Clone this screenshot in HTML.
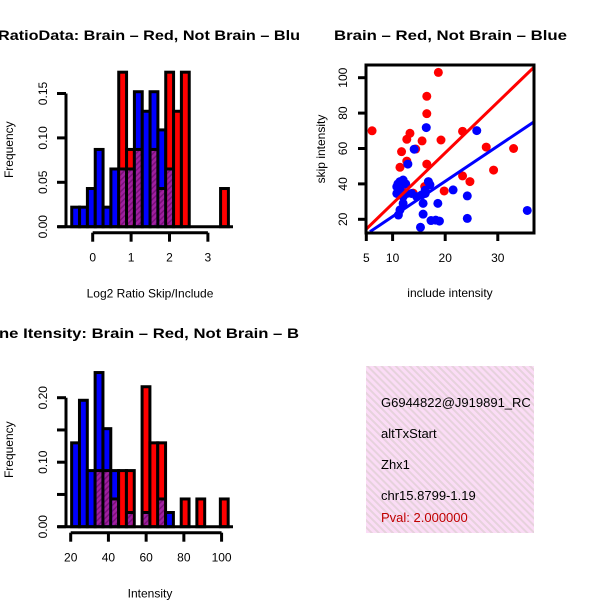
<!DOCTYPE html>
<html><head><meta charset="utf-8"><style>
html,body{margin:0;padding:0;background:#fff;}
svg text{font-family:"Liberation Sans",sans-serif;}
</style></head><body>
<svg id="s" width="600" height="600" viewBox="0 0 600 600" xmlns="http://www.w3.org/2000/svg">
<defs>
<pattern id="hp" patternUnits="userSpaceOnUse" width="4" height="4" patternTransform="rotate(45)">
<rect width="4" height="4" fill="#a020a0"/><rect width="1.5" height="4" fill="#7a107a"/></pattern>
<pattern id="pink" patternUnits="userSpaceOnUse" width="5" height="5" patternTransform="rotate(-45)">
<rect width="5" height="5" fill="#fbdcf6"/><rect width="2" height="5" fill="#e6d2dc"/></pattern>
<clipPath id="c1"><rect x="0" y="0" width="300" height="300"/></clipPath>
<clipPath id="c3"><rect x="0" y="300" width="300" height="300"/></clipPath>
<clipPath id="c2"><rect x="366" y="65" width="168" height="168"/></clipPath>
<clipPath id="c4"><rect x="366" y="366" width="168" height="167"/></clipPath>
</defs>
<text x="-2" y="40" font-size="14" font-weight="bold" textLength="302" lengthAdjust="spacingAndGlyphs" clip-path="url(#c1)">RatioData: Brain – Red, Not Brain – Blu</text>
<text x="334" y="40" font-size="14" font-weight="bold" textLength="233" lengthAdjust="spacingAndGlyphs">Brain – Red, Not Brain – Blue</text>
<text x="-1" y="338" font-size="14" font-weight="bold" textLength="300" lengthAdjust="spacingAndGlyphs" clip-path="url(#c3)">ne Itensity: Brain – Red, Not Brain – B</text>
<g id="g1"></g><g id="g2"></g><g id="g3"></g>
<g>
<rect x="366" y="366" width="168" height="167" fill="url(#pink)"/>
<g clip-path="url(#c4)" font-size="13">
<text x="381" y="407">G6944822@J919891_RC</text>
<text x="381" y="438">altTxStart</text>
<text x="381" y="469">Zhx1</text>
<text x="381" y="500">chr15.8799-1.19</text>
<text x="381" y="522" fill="#c00000">Pval: 2.000000</text>
</g></g>
</svg>
<script>
// Histogram 1: log2 ratio
const ratioBlue=[0.022,0.022,0.043,0.087,0.022,0.065,0.065,0.065,0.152,0.130,0.152,0.109,0.065,0,0,0,0,0,0,0];
const ratioRed=[0,0,0,0,0,0,0.174,0.087,0.087,0,0.087,0.043,0.174,0.130,0.174,0,0,0,0,0.043];
const ratioXTicks=[0,1,2,3];
const ratioYTicks=[0,0.05,0.10,0.15];
const ratioYLabels=["0.00","0.05","0.10","0.15"];
// Histogram 2: intensity
const intBlue=[0.130,0.196,0.087,0.239,0.152,0.087,0,0.022,0,0.022,0,0.043,0.022,0,0,0,0,0,0,0];
const intRed=[0,0,0,0.087,0.087,0.043,0.087,0.087,0,0.217,0.130,0.130,0,0,0.043,0,0.043,0,0,0.043];
const intXTicks=[20,40,60,80,100];
const intYTicks=[0,0.05,0.10,0.15,0.20];
const intYLabels=["0.00","","0.10","","0.20"];
// Scatter
const redPts=[[6.1,70],[18.7,103],[16.5,89.5],[16.5,79.7],[13.3,68.6],[12.7,65.2],[15.6,64.3],[19.2,64.8],[23.3,69.7],[14.4,59.7],[11.7,58.2],[12.7,52.9],[16.5,51.2],[11.4,49.4],[27.8,60.8],[33,60],[29.2,47.8],[23.3,44.5],[24.7,41.3],[19.8,36],[16.1,38.5],[11.7,37.6],[13.9,34.8]];
const bluePts=[[16.4,71.8],[26,70.1],[14.1,59.6],[12.9,51.2],[11.4,41.3],[12.0,42.2],[10.8,38.4],[11.4,36.5],[10.8,34.6],[12.0,32.8],[12.7,34.6],[12.0,29],[11.4,25.3],[11.1,22.4],[13.6,34.6],[14.6,32.8],[15.5,33.7],[16.2,36.5],[16.8,41.3],[17.1,39.5],[16.2,34.6],[15.8,29],[21.5,36.6],[24.2,33.2],[24.2,20.5],[18.6,29],[18.2,19.5],[18.9,19],[17.3,19.3],[15.8,22.9],[15.3,15.5],[35.6,25],[12.5,40],[11,40]];
const redLine=[[5,14.5],[36.9,106]];
const blueLine=[[5.7,13],[36.9,75.1]];
const scXTicks=[5,10,20,30];
const scYTicks=[20,40,60,80,100];

const NS="http://www.w3.org/2000/svg";
function mk(p,t,a){const e=document.createElementNS(NS,t);for(const k in a)e.setAttribute(k,a[k]);p.appendChild(e);return e;}

function hist(g,blue,red,o){
  const sx=v=>o.x0+(v-o.v0)*o.kx, sy=v=>o.y0-v*o.ky;
  const n=blue.length;
  for(let i=0;i<n;i++){
    const b=blue[i],r=red[i];if(b===0&&r===0)continue;
    const xa=sx(o.b0+i*o.bw),xb=sx(o.b0+(i+1)*o.bw);
    const mx=Math.max(b,r),mn=Math.min(b,r);
    const r1=mk(g,'rect',{x:xa,y:sy(mx),width:xb-xa,height:sy(0)-sy(mx),fill:b>=r?'#0000ff':'#ff0000',stroke:'#000','stroke-width':3});
    
    
    if(mn>0){
      const r2=mk(g,'rect',{x:xa+1.5,y:sy(mn),width:xb-xa-3,height:sy(0)-sy(mn)-1.5,fill:'url(#hp)'});
      
      
      mk(g,'line',{x1:xa,x2:xb,y1:sy(mn),y2:sy(mn),stroke:'#000','stroke-width':3});
    }
  }
  mk(g,'line',{x1:58,x2:233,y1:sy(0),y2:sy(0),stroke:'#000','stroke-width':3});
  const ya=mk(g,'line',{x1:66,x2:66,y1:sy(0),y2:sy(o.yt[o.yt.length-1]),stroke:'#000','stroke-width':3});
  
  
  o.yt.forEach((v,i)=>{
    mk(g,'line',{x1:57,x2:66,y1:sy(v),y2:sy(v),stroke:'#000','stroke-width':3});
    if(o.yl[i]){const t=mk(g,'text',{x:47,y:sy(v),'font-size':12,'text-anchor':'middle',transform:`rotate(-90 47 ${sy(v)})`});t.textContent=o.yl[i];
    
    }
  });
  const ay=o.y0+6;
  const xa=mk(g,'line',{x1:sx(o.xt[0]),x2:sx(o.xt[o.xt.length-1]),y1:ay,y2:ay,stroke:'#000','stroke-width':3});
  
  
  o.xt.forEach(v=>{
    mk(g,'line',{x1:sx(v),x2:sx(v),y1:ay,y2:ay+9,stroke:'#000','stroke-width':3});
    const t=mk(g,'text',{x:sx(v),y:ay+29,'font-size':12,'text-anchor':'middle'});t.textContent=v;
    
    
  });
  const xl=mk(g,'text',{x:150,y:o.y0+71,'font-size':12,'text-anchor':'middle'});xl.textContent=o.xlab;
  
  
  const cy=o.y0-77;
  const yl=mk(g,'text',{x:13,y:cy,'font-size':12,'text-anchor':'middle',transform:`rotate(-90 13 ${cy})`});yl.textContent='Frequency';
  
  
}
const g1=document.getElementById('g1');


hist(g1,ratioBlue,ratioRed,{x0:92.7,v0:0,kx:38.4,y0:226.7,ky:888,b0:-0.546,bw:0.204,xt:ratioXTicks,yt:ratioYTicks,yl:ratioYLabels,xlab:'Log2 Ratio Skip/Include'});
const g3=document.getElementById('g3');


hist(g3,intBlue,intRed,{x0:70.7,v0:20,kx:1.886,y0:526.7,ky:645,b0:20.5,bw:4.15,xt:intXTicks,yt:intYTicks,yl:intYLabels,xlab:'Intensity'});

const g2=document.getElementById('g2');


const px=v=>366.3+(v-5)*5.26, py=v=>219.3-(v-20)*1.77;
const pg=mk(g2,'g',{'clip-path':'url(#c2)'});
redPts.forEach(p=>{const c=mk(pg,'circle',{cx:px(p[0]),cy:py(p[1]),r:4.5,fill:'#ff0000'});
  
  });
bluePts.forEach(p=>{const c=mk(pg,'circle',{cx:px(p[0]),cy:py(p[1]),r:4.5,fill:'#0000ff'});
  
  });
const l1=mk(pg,'line',{x1:px(redLine[0][0]),y1:py(redLine[0][1]),x2:px(redLine[1][0]),y2:py(redLine[1][1]),stroke:'#ff0000','stroke-width':3});


const l2=mk(pg,'line',{x1:px(blueLine[0][0]),y1:py(blueLine[0][1]),x2:px(blueLine[1][0]),y2:py(blueLine[1][1]),stroke:'#0000ff','stroke-width':3});


const bx=mk(g2,'rect',{x:366,y:65,width:168,height:168,fill:'none',stroke:'#000','stroke-width':3});


scXTicks.forEach(v=>{mk(g2,'line',{x1:px(v),x2:px(v),y1:233,y2:241,stroke:'#000','stroke-width':3});
  const t=mk(g2,'text',{x:px(v),y:262,'font-size':12,'text-anchor':'middle'});t.textContent=v;
  
  });
scYTicks.forEach(v=>{mk(g2,'line',{x1:358,x2:366,y1:py(v),y2:py(v),stroke:'#000','stroke-width':3});
  const t=mk(g2,'text',{x:347,y:py(v),'font-size':12,'text-anchor':'middle',transform:`rotate(-90 347 ${py(v)})`});t.textContent=v;
  
  });
const sxl=mk(g2,'text',{x:450,y:297,'font-size':12,'text-anchor':'middle'});sxl.textContent='include intensity';


const syl=mk(g2,'text',{x:325,y:149,'font-size':12,'text-anchor':'middle',transform:'rotate(-90 325 149)'});syl.textContent='skip intensity';


</script>
</body></html>
